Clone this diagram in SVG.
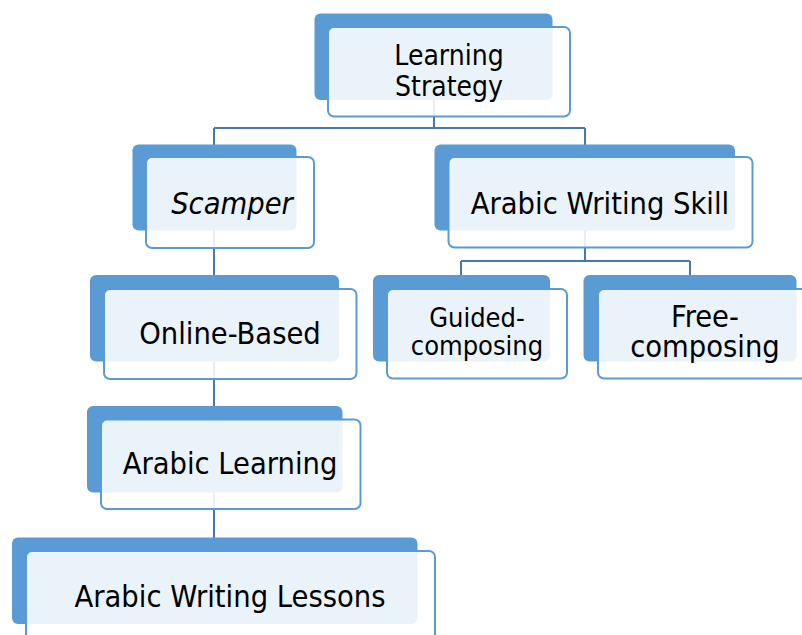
<svg xmlns="http://www.w3.org/2000/svg" width="802" height="635" viewBox="0 0 802 635">
  <style>
    .conn { fill: none; stroke: #4677AE; stroke-width: 2; }
    .back { fill: #5B9BD5; }
    .front { fill: #FFFFFF; fill-opacity: 0.88; stroke: #5B9BD5; stroke-width: 2; }
    .lbl { font-family: "DejaVu Sans Condensed", "DejaVu Sans", Verdana, sans-serif; font-stretch: condensed; font-size: 30.5px; fill: #000000; text-anchor: middle; }
    .small { font-size: 27px; }
    .top { font-size: 28px; }
    .it { font-style: italic; }
  </style>

  <!-- connectors sit behind the cards -->
  <g id="connectors">
    <path class="conn" d="M434,57 V128 M214,128 H585 M214,128 V187 M585,128 V187"/>
    <path class="conn" d="M585,187 V261 M461,261 H690 M461,261 V318 M690,261 V318"/>
    <path class="conn" d="M214,187 V318 V449 V580"/>
  </g>

  <g id="learning-strategy">
    <rect class="back" x="314.5" y="13.5" width="238" height="86.5" rx="6"/>
    <rect class="front" x="328" y="27" width="242" height="89.5" rx="6"/>
    <text class="lbl top" x="449" y="65">Learning</text>
    <text class="lbl top" x="449" y="96">Strategy</text>
  </g>

  <g id="scamper">
    <rect class="back" x="132.5" y="144.5" width="164" height="86" rx="6"/>
    <rect class="front" x="146" y="157" width="168" height="91" rx="6"/>
    <text class="lbl it" x="232" y="214">Scamper</text>
  </g>

  <g id="arabic-writing-skill">
    <rect class="back" x="434.5" y="144.5" width="300.5" height="86" rx="6"/>
    <rect class="front" x="448.5" y="157" width="304" height="90.5" rx="6"/>
    <text class="lbl" x="600" y="214">Arabic Writing Skill</text>
  </g>

  <g id="online-based">
    <rect class="back" x="90" y="275" width="249" height="86.5" rx="6"/>
    <rect class="front" x="104" y="289" width="252.5" height="90" rx="6"/>
    <text class="lbl" x="230" y="344">Online-Based</text>
  </g>

  <g id="guided-composing">
    <rect class="back" x="373" y="275" width="177" height="86.5" rx="6"/>
    <rect class="front" x="387" y="289" width="180" height="89.5" rx="6"/>
    <text class="lbl small" x="477" y="327">Guided-</text>
    <text class="lbl small" x="477" y="355">composing</text>
  </g>

  <g id="free-composing">
    <rect class="back" x="583.5" y="275" width="213" height="86.5" rx="6"/>
    <rect class="front" x="598" y="289" width="214" height="89.5" rx="6"/>
    <text class="lbl" x="705" y="327">Free-</text>
    <text class="lbl" x="705" y="357">composing</text>
  </g>

  <g id="arabic-learning">
    <rect class="back" x="87" y="406" width="255.5" height="86.5" rx="6"/>
    <rect class="front" x="101" y="419.5" width="259.5" height="89.5" rx="6"/>
    <text class="lbl" x="230" y="474">Arabic Learning</text>
  </g>

  <g id="arabic-writing-lessons">
    <rect class="back" x="12" y="537.5" width="405.5" height="86.5" rx="6"/>
    <rect class="front" x="26" y="551" width="409" height="90" rx="6"/>
    <text class="lbl" x="230" y="607">Arabic Writing Lessons</text>
  </g>
</svg>
